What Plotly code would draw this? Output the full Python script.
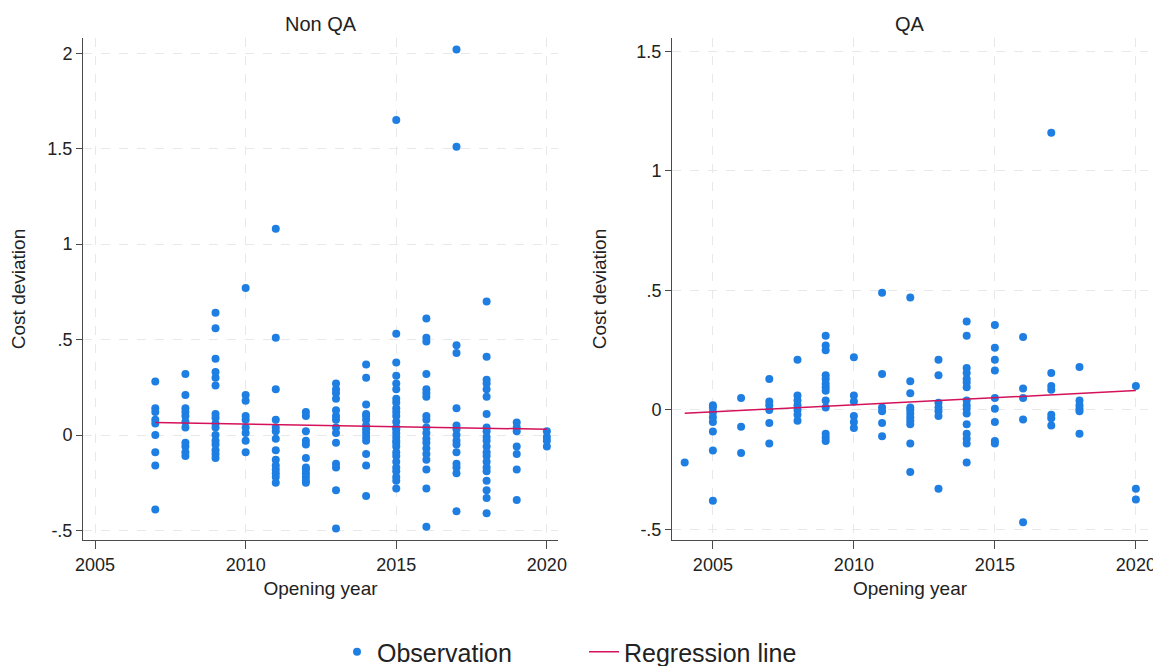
import numpy as np
import plotly.graph_objects as go

# ---------------- data ----------------
nonqa_years = [2007, 2008, 2009, 2010, 2011, 2012, 2013, 2014, 2015, 2016, 2017, 2018, 2019, 2020]
nonqa_values = [
    [0.28, 0.14, 0.12, 0.08, 0.06, 0.0, -0.09, -0.16, -0.39],
    [0.32, 0.21, 0.14, 0.12, 0.10, 0.07, 0.04, -0.04, -0.06, -0.09, -0.11],
    [0.64, 0.56, 0.40, 0.33, 0.30, 0.26, 0.11, 0.09, 0.06, 0.04, 0.0, -0.03, -0.05, -0.08, -0.10, -0.12],
    [0.77, 0.21, 0.18, 0.10, 0.08, 0.04, 0.01, -0.03, -0.09],
    [1.08, 0.51, 0.24, 0.08, 0.04, 0.02, -0.02, -0.08, -0.13, -0.16, -0.18, -0.20, -0.22, -0.25],
    [0.12, 0.10, 0.02, -0.03, -0.05, -0.12, -0.17, -0.18, -0.20, -0.22, -0.24, -0.25],
    [0.27, 0.24, 0.22, 0.19, 0.13, 0.10, 0.08, 0.04, 0.01, -0.04, -0.15, -0.17, -0.29, -0.49],
    [0.37, 0.30, 0.16, 0.11, 0.10, 0.08, 0.05, 0.03, 0.01, -0.01, -0.03, -0.10, -0.16, -0.32],
    [1.65, 0.53, 0.38, 0.31, 0.27, 0.24, 0.19, 0.17, 0.14, 0.12, 0.10, 0.07, 0.04, 0.03, 0.01,
     -0.01, -0.03, -0.04, -0.06, -0.09, -0.11, -0.14, -0.17, -0.19, -0.22, -0.24, -0.28],
    [0.61, 0.51, 0.49, 0.32, 0.24, 0.22, 0.20, 0.10, 0.08, 0.04, 0.01, -0.02, -0.04, -0.07, -0.10,
     -0.13, -0.18, -0.28, -0.48],
    [2.02, 1.51, 0.47, 0.43, 0.14, 0.05, 0.03, 0.0, -0.03, -0.05, -0.09, -0.15, -0.17, -0.20, -0.40],
    [0.70, 0.41, 0.29, 0.27, 0.24, 0.20, 0.11, 0.04, 0.02, -0.01, -0.03, -0.06, -0.09, -0.11, -0.14,
     -0.17, -0.19, -0.24, -0.29, -0.33, -0.41],
    [0.065, 0.04, 0.02, -0.06, -0.10, -0.18, -0.34],
    [0.02, -0.01, -0.03, -0.06],
]
# regression line (ends of the fitted line)
nonqa_fit_years = [2007, 2020]
nonqa_fit_values = [0.066, 0.030]

qa_years = [2004, 2005, 2006, 2007, 2008, 2009, 2010, 2011, 2012, 2013, 2014, 2015, 2016, 2017, 2018, 2020]
qa_values = [
    [-0.22],
    [0.02, 0.01, -0.01, -0.03, -0.05, -0.09, -0.17, -0.38],
    [0.05, -0.07, -0.18],
    [0.13, 0.035, 0.02, 0.0, -0.055, -0.14],
    [0.21, 0.06, 0.04, 0.02, 0.0, -0.02, -0.045],
    [0.31, 0.27, 0.25, 0.145, 0.13, 0.11, 0.095, 0.08, 0.04, 0.01, -0.10, -0.115, -0.13],
    [0.22, 0.06, 0.035, -0.025, -0.05, -0.075],
    [0.49, 0.15, 0.01, -0.005, -0.055, -0.11],
    [0.47, 0.12, 0.07, 0.01, 0.0, -0.015, -0.03, -0.045, -0.06, -0.14, -0.26],
    [0.21, 0.145, 0.03, 0.01, -0.005, -0.025, -0.33],
    [0.37, 0.31, 0.175, 0.155, 0.13, 0.115, 0.095, 0.04, 0.02, 0.005, -0.015, -0.06, -0.10, -0.12, -0.14, -0.22],
    [0.355, 0.26, 0.21, 0.165, 0.05, 0.005, -0.05, -0.13, -0.14],
    [0.305, 0.09, 0.05, -0.04, -0.47],
    [1.16, 0.155, 0.10, 0.085, -0.02, -0.035, -0.065],
    [0.18, 0.04, 0.02, 0.005, -0.005, -0.10],
    [0.10, -0.33, -0.375],
]
qa_fit_years = [2004, 2020]
qa_fit_values = [-0.014, 0.081]

x_tickvals = [2005, 2010, 2015, 2020]
nonqa_ytickvals = [-0.5, 0, 0.5, 1, 1.5, 2]
nonqa_yticktext = ["-.5", "0", ".5", "1", "1.5", "2"]
qa_ytickvals = [-0.5, 0, 0.5, 1, 1.5]
qa_yticktext = ["-.5", "0", ".5", "1", "1.5"]
panel_titles = ["Non QA", "QA"]


def flatten(years, values):
    xs, ys = [], []
    for yr, vals in zip(years, values):
        for v in vals:
            xs.append(yr)
            ys.append(v)
    return xs, ys


# page is 1161x666; the html body adds an 8px margin, so the figure is 8px smaller
OFF = 8
W, H = 1161 - OFF, 666 - OFF
FONT = "Arial, Liberation Sans, sans-serif"
DOT = "#1f7ee2"
LINE = "#d41159"
AX = "#4a4a4a"
GRID = "#e8e8e8"

fig = go.Figure()

panels = [
    (nonqa_years, nonqa_values, nonqa_fit_years, nonqa_fit_values, "x", "y", True),
    (qa_years, qa_values, qa_fit_years, qa_fit_values, "x2", "y2", False),
]
for years, values, fy, fv, xa, ya, first in panels:
    xs, ys = flatten(years, values)
    fig.add_trace(go.Scatter(
        x=xs, y=ys, mode="markers", xaxis=xa, yaxis=ya,
        marker=dict(color=DOT, size=8, line=dict(width=0)),
        name="Observation", showlegend=first, legend="legend",
    ))
    fig.add_trace(go.Scatter(
        x=fy, y=fv, mode="lines", xaxis=xa, yaxis=ya,
        line=dict(color=LINE, width=1.5),
        name="Regression line", showlegend=first, legend="legend2",
    ))


def px_x(p):
    return (p - OFF) / W


def px_y(p):
    return 1 - (p - OFF) / H


xcommon = dict(
    tickvals=x_tickvals, showline=True, linecolor=AX, linewidth=1,
    ticks="outside", ticklen=8, tickcolor=AX, showgrid=True, gridcolor=GRID,
    griddash="dash", zeroline=False, tickfont=dict(size=18, color="#222", family=FONT),
    title=dict(text="Opening year", font=dict(size=19, color="#222", family=FONT), standoff=8),
    automargin=False,
)
ycommon = dict(
    showline=True, linecolor=AX, linewidth=1,
    ticks="outside", ticklen=6, tickcolor=AX, showgrid=True, gridcolor=GRID,
    griddash="dash", zeroline=False, tickfont=dict(size=18, color="#222", family=FONT),
    title=dict(text="Cost deviation", font=dict(size=19, color="#222", family=FONT), standoff=24),
    tickangle=0, automargin=False,
)

ydom = [px_y(540), px_y(38)]
fig.update_layout(
    width=W, height=H,
    margin=dict(l=0, r=0, t=0, b=0, autoexpand=False),
    paper_bgcolor="white", plot_bgcolor="white",
    font=dict(family=FONT, color="#222"),
    xaxis=dict(xcommon, domain=[px_x(83), px_x(558)], range=[2004.6, 2020.37], anchor="y"),
    yaxis=dict(ycommon, domain=ydom, range=[-0.55, 2.08], anchor="x",
               tickvals=nonqa_ytickvals, ticktext=nonqa_yticktext),
    xaxis2=dict(xcommon, domain=[px_x(672), px_x(1148)], range=[2003.55, 2020.43], anchor="y2"),
    yaxis2=dict(ycommon, domain=ydom, range=[-0.544, 1.556], anchor="x2",
                tickvals=qa_ytickvals, ticktext=qa_yticktext),
    legend=dict(orientation="h", x=px_x(337), xanchor="left", y=px_y(652), yanchor="middle",
                font=dict(size=25, color="#222", family=FONT), bgcolor="rgba(0,0,0,0)"),
    legend2=dict(orientation="h", x=px_x(584), xanchor="left", y=px_y(652), yanchor="middle",
                 font=dict(size=25, color="#222", family=FONT), bgcolor="rgba(0,0,0,0)"),
    annotations=[
        dict(text=panel_titles[0], x=px_x(320.5), y=px_y(24), xref="paper", yref="paper",
             xanchor="center", yanchor="middle",
             showarrow=False, font=dict(size=20, color="#222", family=FONT)),
        dict(text=panel_titles[1], x=px_x(910), y=px_y(24), xref="paper", yref="paper",
             xanchor="center", yanchor="middle",
             showarrow=False, font=dict(size=20, color="#222", family=FONT)),
    ],
    showlegend=True,
)

fig.write_html("out.html")
